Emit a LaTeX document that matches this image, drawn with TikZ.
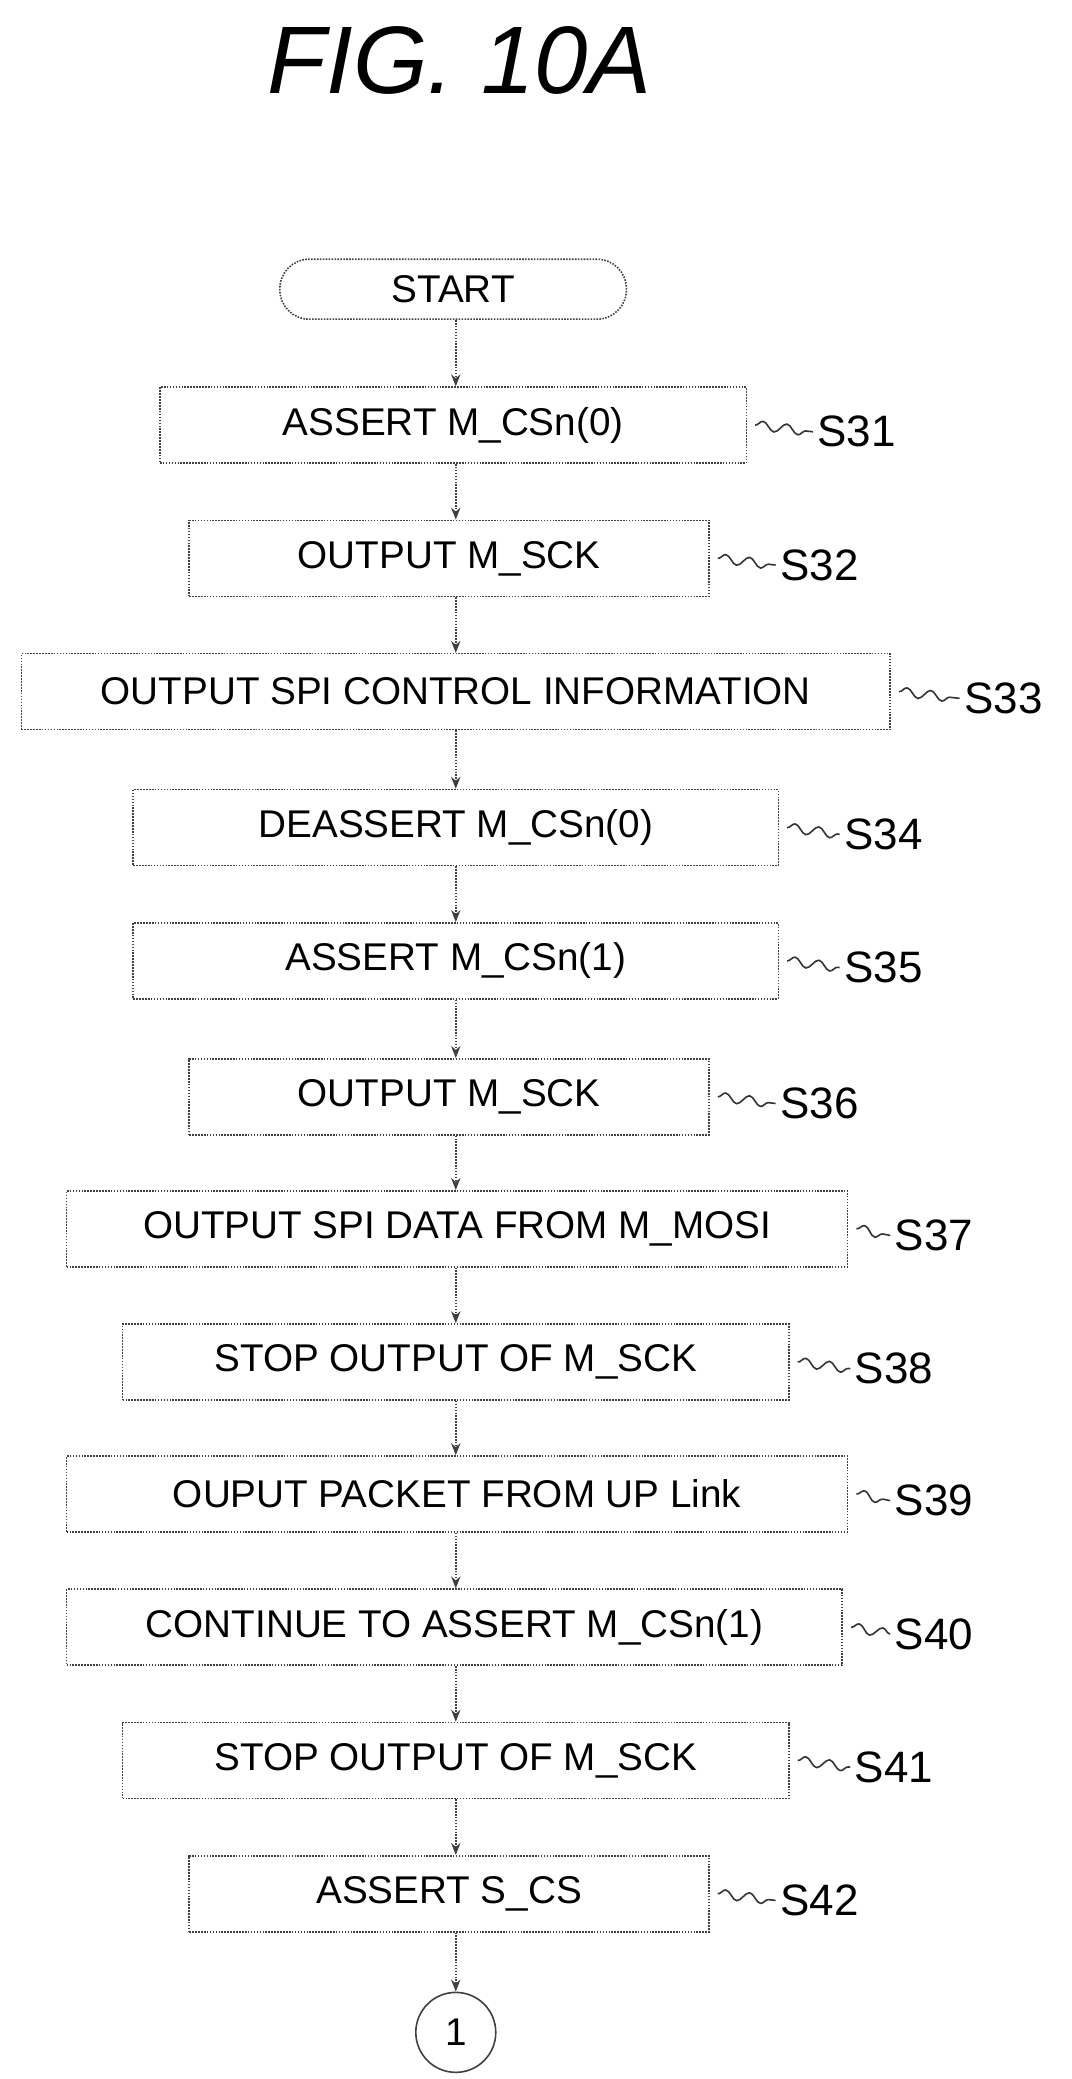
\documentclass[tikz,border=0pt]{standalone}
\usepackage{fontspec}
\setmainfont{Liberation Sans}
\usetikzlibrary{arrows.meta,decorations.pathmorphing}
\begin{document}
\begin{tikzpicture}[x=1pt,y=-1pt,
  stepbox/.style={draw=black!75,line width=1.2pt,densely dotted,minimum height=57pt,font=\fontsize{29}{30}\selectfont,inner sep=0pt},
  lbl/.style={font=\fontsize{33}{34}\selectfont,anchor=west},
  conn/.style={draw=black!75,line width=1.2pt,densely dotted,-{Stealth[length=9pt,width=7pt]}},
  sq/.style={draw=black!80,line width=1.2pt,decorate,decoration={snake,amplitude=3.5pt,segment length=18pt}}]
\useasboundingbox (0,0) rectangle (804,1560);
\node[font=\itshape\fontsize{72}{74}\selectfont] (title) at (345,45) {FIG. 10A};
\node[stepbox,rounded corners=22pt,minimum width=260pt,minimum height=45pt] (st) at (340,217) {START};
\coordinate (cx) at (342,0);
\foreach \n/\l/\r/\y/\t/\lx in {
 31/120/560/319/ASSERT M\_CSn(0)/610,
 32/142/532/419/OUTPUT M\_SCK/582,
 33/16/668/519/OUTPUT SPI CONTROL INFORMATION/720,
 34/100/584/621/DEASSERT M\_CSn(0)/630,
 35/100/584/721/ASSERT M\_CSn(1)/630,
 36/142/532/823/OUTPUT M\_SCK/582,
 37/50/636/922/OUTPUT SPI DATA FROM M\_MOSI/668,
 38/92/592/1022/STOP OUTPUT OF M\_SCK/638,
 39/50/636/1121/OUPUT PACKET FROM UP Link/668,
 40/50/632/1221/CONTINUE TO ASSERT M\_CSn(1)/668,
 41/92/592/1321/STOP OUTPUT OF M\_SCK/638,
 42/142/532/1421/ASSERT S\_CS/582}{
  \node[stepbox,minimum width={\r-\l}] (s\n) at ({(\l+\r)/2},\y) {\t};
  \node[lbl] (l\n) at (\lx,\y+5) {S\n};
  \draw[sq] (s\n.east) ++(6,0) coordinate (a\n) -- (l\n.west);
}
\node[draw=black!75,line width=1.2pt,circle,minimum size=60pt,inner sep=0pt,font=\fontsize{29}{30}\selectfont] (c1) at (342,1525) {1};
\draw[conn] (st.south -| cx) -- (s31.north -| cx);
\foreach \a/\b in {31/32,32/33,33/34,34/35,35/36,36/37,37/38,38/39,39/40,40/41,41/42}
  \draw[conn] (s\a.south -| cx) -- (s\b.north -| cx);
\draw[conn] (s42.south -| cx) -- (c1);
\end{tikzpicture}
\end{document}
